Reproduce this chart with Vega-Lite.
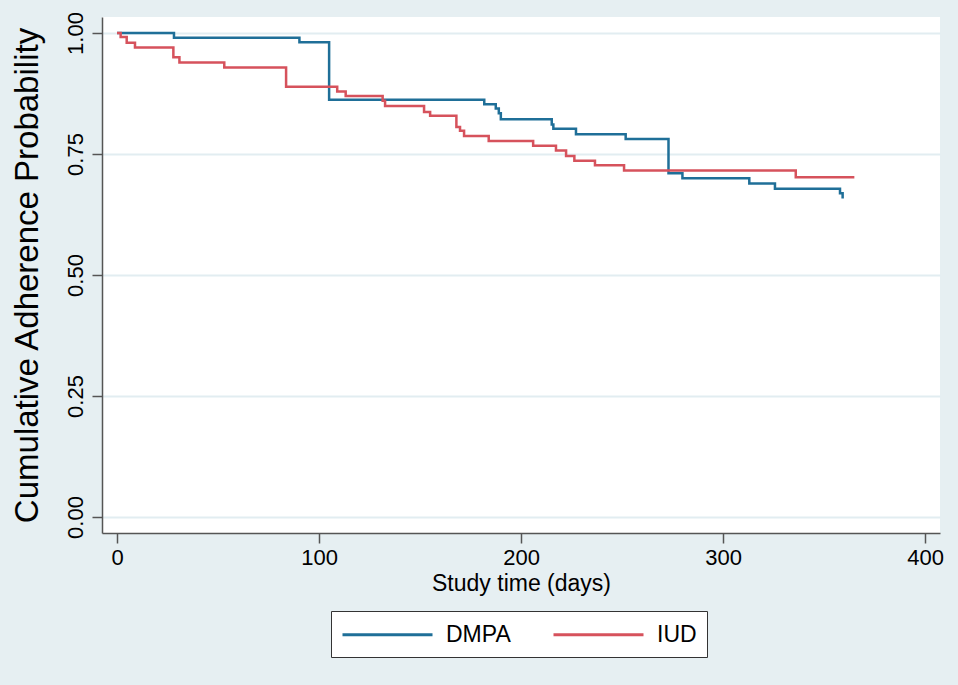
{
  "$schema": "https://vega.github.io/schema/vega-lite/v6.json",
  "width": 838,
  "height": 516,
  "autosize": {"type": "none"},
  "padding": {"left": 102, "top": 17, "right": 18, "bottom": 152},
  "background": "#e6eff2",
  "view": {"fill": "white", "stroke": null},
  "config": {"font": "Liberation Sans"},
  "data": {
    "values": [
      {"group": "DMPA", "t": 0, "s": 1.0},
      {"group": "DMPA", "t": 28.2, "s": 0.990},
      {"group": "DMPA", "t": 90.3, "s": 0.981},
      {"group": "DMPA", "t": 105, "s": 0.862},
      {"group": "DMPA", "t": 181.8, "s": 0.853},
      {"group": "DMPA", "t": 187.5, "s": 0.844},
      {"group": "DMPA", "t": 189, "s": 0.834},
      {"group": "DMPA", "t": 190, "s": 0.822},
      {"group": "DMPA", "t": 215.2, "s": 0.811},
      {"group": "DMPA", "t": 216, "s": 0.802},
      {"group": "DMPA", "t": 227.2, "s": 0.791},
      {"group": "DMPA", "t": 251.8, "s": 0.781},
      {"group": "DMPA", "t": 273, "s": 0.710},
      {"group": "DMPA", "t": 279.9, "s": 0.700},
      {"group": "DMPA", "t": 313, "s": 0.689},
      {"group": "DMPA", "t": 325.7, "s": 0.678},
      {"group": "DMPA", "t": 357.9, "s": 0.669},
      {"group": "DMPA", "t": 359.2, "s": 0.658},
      {"group": "IUD", "t": 0, "s": 1.0},
      {"group": "IUD", "t": 1.8, "s": 0.992},
      {"group": "IUD", "t": 4.8, "s": 0.980},
      {"group": "IUD", "t": 8.9, "s": 0.970},
      {"group": "IUD", "t": 27.9, "s": 0.950},
      {"group": "IUD", "t": 30.9, "s": 0.939},
      {"group": "IUD", "t": 53.1, "s": 0.929},
      {"group": "IUD", "t": 83.7, "s": 0.889},
      {"group": "IUD", "t": 109, "s": 0.879},
      {"group": "IUD", "t": 113.2, "s": 0.870},
      {"group": "IUD", "t": 131.5, "s": 0.860},
      {"group": "IUD", "t": 132.7, "s": 0.849},
      {"group": "IUD", "t": 152, "s": 0.837},
      {"group": "IUD", "t": 155, "s": 0.829},
      {"group": "IUD", "t": 168, "s": 0.806},
      {"group": "IUD", "t": 169.8, "s": 0.798},
      {"group": "IUD", "t": 171.8, "s": 0.787},
      {"group": "IUD", "t": 184, "s": 0.777},
      {"group": "IUD", "t": 206, "s": 0.767},
      {"group": "IUD", "t": 217.3, "s": 0.757},
      {"group": "IUD", "t": 222.3, "s": 0.746},
      {"group": "IUD", "t": 226.4, "s": 0.736},
      {"group": "IUD", "t": 236.6, "s": 0.727},
      {"group": "IUD", "t": 251, "s": 0.716},
      {"group": "IUD", "t": 336, "s": 0.702},
      {"group": "IUD", "t": 365, "s": 0.702}
    ]
  },
  "mark": {"type": "line", "interpolate": "step-after", "strokeWidth": 2.5},
  "encoding": {
    "x": {
      "field": "t",
      "type": "quantitative",
      "scale": {"domain": [-7.43, 407.4], "nice": false, "zero": false},
      "axis": {
        "values": [0, 100, 200, 300, 400],
        "grid": false,
        "domainColor": "#555555",
        "domainWidth": 1.5,
        "tickColor": "#555555",
        "tickWidth": 1.5,
        "tickSize": 10,
        "labelFontSize": 22,
        "labelColor": "black",
        "labelPadding": 4,
        "title": "Study time (days)",
        "titleFontSize": 23,
        "titleFontWeight": "normal",
        "titleColor": "black",
        "titlePadding": 4
      }
    },
    "y": {
      "field": "s",
      "type": "quantitative",
      "scale": {"domain": [-0.0331, 1.0331], "nice": false, "zero": false},
      "axis": {
        "values": [0, 0.25, 0.5, 0.75, 1],
        "format": ".2f",
        "grid": true,
        "gridColor": "#e2edf1",
        "gridWidth": 2,
        "domainColor": "#555555",
        "domainWidth": 1.5,
        "tickColor": "#555555",
        "tickWidth": 1.5,
        "tickSize": 10,
        "labelAngle": -90,
        "labelAlign": "center",
        "labelBaseline": "alphabetic",
        "labelFontSize": 22,
        "labelColor": "black",
        "labelPadding": 10,
        "title": "Cumulative Adherence Probability",
        "titleFontSize": 33,
        "titleFontWeight": "normal",
        "titleColor": "black",
        "titlePadding": 20
      }
    },
    "color": {
      "field": "group",
      "type": "nominal",
      "scale": {"domain": ["DMPA", "IUD"], "range": ["#1f6f98", "#d6525c"]},
      "legend": {
        "orient": "none",
        "legendX": 229,
        "legendY": 594,
        "direction": "horizontal",
        "title": null,
        "fillColor": "white",
        "strokeColor": "#333333",
        "padding": 10,
        "symbolType": "M-1,0H6.5",
        "symbolSize": 576,
        "symbolStrokeWidth": 3,
        "labelFontSize": 23,
        "labelColor": "black",
        "labelOffset": 78,
        "columnPadding": 36
      }
    }
  }
}
